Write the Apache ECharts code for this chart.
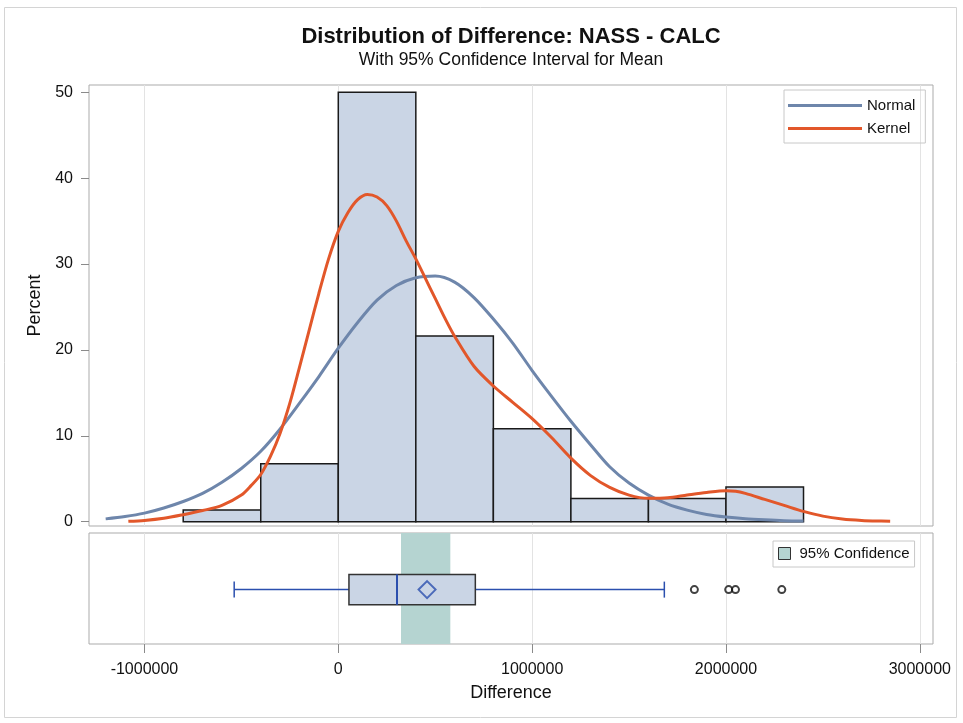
<!DOCTYPE html>
<html>
<head>
<meta charset="utf-8">
<script src="https://cdn.jsdelivr.net/npm/echarts@6/dist/echarts.min.js"></script>
<style>
  html, body { margin: 0; padding: 0; background: #ffffff; }
  #chart { width: 963px; height: 723px; }
</style>
</head>
<body>
<div id="chart"></div>
<script>
// Histogram bins: lower/upper edges and percent of observations in each bin
const binLower = [-800000, -400000, 0, 400000, 800000, 1200000, 1600000, 2000000];
const binUpper = [-400000, 0, 400000, 800000, 1200000, 1600000, 2000000, 2400000];
const binPercent = [1.35, 6.76, 50.0, 21.62, 10.81, 2.70, 2.70, 4.05];

// Fitted normal density (scaled to percent)
const normalX = [-1200000, -1100000, -1000000, -900000, -800000, -700000, -600000, -500000, -400000, -300000,
                 -200000, -100000, 0, 100000, 200000, 300000, 400000, 500000, 600000, 700000,
                 800000, 900000, 1000000, 1100000, 1200000, 1300000, 1400000, 1500000, 1600000, 1700000,
                 1800000, 1900000, 2000000, 2100000, 2200000, 2300000, 2400000];
const normalY = [0.33, 0.6, 1.0, 1.6, 2.35, 3.3, 4.6, 6.2, 8.2, 10.8,
                 13.8, 16.9, 20.2, 23.2, 25.8, 27.5, 28.4, 28.6, 27.9, 26.1,
                 23.6, 20.8, 17.6, 14.6, 11.7, 9.0, 6.4, 4.5, 3.1, 2.05,
                 1.35, 0.85, 0.55, 0.35, 0.22, 0.12, 0.07];

// Kernel density estimate (scaled to percent)
const kernelX = [-1083000, -1000000, -900000, -800000, -700000, -600000, -500000, -450000, -400000, -350000,
                 -300000, -250000, -200000, -150000, -100000, -50000, 0, 50000, 100000, 150000,
                 200000, 250000, 300000, 350000, 400000, 450000, 500000, 550000, 600000, 700000,
                 800000, 900000, 1000000, 1100000, 1200000, 1300000, 1400000, 1500000, 1600000, 1700000,
                 1800000, 1900000, 2000000, 2050000, 2100000, 2200000, 2300000, 2400000, 2500000, 2600000,
                 2700000, 2800000, 2847000];
const kernelY = [0.05, 0.15, 0.4, 0.82, 1.3, 1.9, 3.1, 4.2, 5.5, 7.6,
                 10.3, 13.8, 18.0, 22.3, 26.6, 30.6, 33.8, 36.0, 37.5, 38.1,
                 37.8, 36.8, 35.0, 32.7, 30.6, 28.3, 26.0, 23.7, 21.6, 18.1,
                 15.8, 13.9, 12.0, 9.8, 7.4, 5.4, 4.0, 3.1, 2.72, 2.78,
                 3.1, 3.4, 3.6, 3.55, 3.3, 2.6, 1.9, 1.2, 0.65, 0.32,
                 0.15, 0.07, 0.05];

// Box plot summary: low whisker, Q1, median, Q3, high whisker
const boxStats = [-537000, 55000, 303000, 707000, 1682000];
const meanValue = 458000;
const outliers = [1837000, 2014000, 2049000, 2288000];
// 95% confidence interval for the mean
const ciBounds = [323500, 578000];

const xTicks = [-1000000, 0, 1000000, 2000000, 3000000];
const yTicks = [0, 10, 20, 30, 40, 50];

const FONT = "'Liberation Sans', Arial, sans-serif";
const BAR_FILL = '#CAD5E5';
const NORMAL_COLOR = '#6E86AB';
const KERNEL_COLOR = '#E2572A';
const CI_COLOR = '#B5D4D1';
const BOX_BLUE = '#2B4FAE';
const PANEL_BORDER = '#ABABAB';
const GRID_LINE = '#E3E3E3';

const X_MIN = -1286000, X_MAX = 3068000;
const BOX_Y = 0.49;

const chart = echarts.init(document.getElementById('chart'), null, { renderer: 'canvas' });

const histData = binLower.map((lo, i) => [lo, binUpper[i], binPercent[i]]);
const normalData = normalX.map((x, i) => [x, normalY[i]]);
const kernelData = kernelX.map((x, i) => [x, kernelY[i]]);

const option = {
  animation: false,
  backgroundColor: '#ffffff',
  graphic: [{
    type: 'rect',
    shape: { x: 4.5, y: 7.5, width: 952, height: 710 },
    style: { fill: 'none', stroke: '#D4D4D4', lineWidth: 1 },
    silent: true,
    z: -10
  }],
  title: {
    text: 'Distribution of Difference: NASS - CALC',
    subtext: 'With 95% Confidence Interval for Mean',
    left: 511,
    textAlign: 'center',
    top: 26,
    itemGap: 3,
    padding: 0,
    textStyle: { fontFamily: FONT, fontSize: 22, fontWeight: 'bold', color: '#111111' },
    subtextStyle: { fontFamily: FONT, fontSize: 17.5, color: '#111111' }
  },
  legend: [{
    data: [
      { name: 'Normal', icon: 'rect' },
      { name: 'Kernel', icon: 'rect' }
    ],
    orient: 'vertical',
    left: 784,
    top: 90,
    itemWidth: 74,
    itemHeight: 3,
    itemGap: 8,
    padding: [8, 10, 7, 4],
    borderColor: '#C8C8C8',
    borderWidth: 1,
    textStyle: { fontFamily: FONT, fontSize: 15, color: '#111111' },
    selectedMode: false
  }, {
    data: [{
      name: '95% Confidence',
      icon: 'rect',
      itemStyle: { color: CI_COLOR, borderColor: '#333333', borderWidth: 1 }
    }],
    orient: 'vertical',
    left: 773,
    top: 541,
    itemWidth: 12,
    itemHeight: 12,
    padding: [5, 5, 6, 5],
    borderColor: '#C8C8C8',
    borderWidth: 1,
    textStyle: { fontFamily: FONT, fontSize: 15, color: '#111111', padding: [0, 0, 0, 4] },
    selectedMode: false
  }],
  grid: [
    { left: 89, top: 85, width: 844, height: 441, show: true, borderColor: PANEL_BORDER, borderWidth: 1, backgroundColor: 'transparent' },
    { left: 89, top: 533, width: 844, height: 111, show: true, borderColor: PANEL_BORDER, borderWidth: 1, backgroundColor: 'transparent' }
  ],
  xAxis: [{
    type: 'value', gridIndex: 0, min: X_MIN, max: X_MAX,
    axisLine: { show: false, onZero: false },
    axisTick: { show: false, customValues: xTicks },
    axisLabel: { show: false, customValues: xTicks },
    splitLine: { show: true, lineStyle: { color: GRID_LINE, width: 1 } }
  }, {
    type: 'value', gridIndex: 1, min: X_MIN, max: X_MAX,
    position: 'bottom',
    name: 'Difference',
    nameLocation: 'middle',
    nameGap: 40,
    nameTextStyle: { fontFamily: FONT, fontSize: 18, color: '#111111' },
    axisLine: { show: false, onZero: false },
    axisTick: { show: true, length: 9, customValues: xTicks, lineStyle: { color: '#8A8A8A' } },
    axisLabel: {
      show: true, customValues: xTicks, margin: 18,
      fontFamily: FONT, fontSize: 16, color: '#111111',
      formatter: v => String(v)
    },
    splitLine: { show: true, lineStyle: { color: GRID_LINE, width: 1 } }
  }],
  yAxis: [{
    type: 'value', gridIndex: 0, min: -0.5, max: 50.85,
    position: 'left',
    name: 'Percent',
    nameLocation: 'middle',
    nameGap: 41,
    nameTextStyle: { fontFamily: FONT, fontSize: 18, color: '#111111' },
    axisLine: { show: false, onZero: false },
    axisTick: { show: true, length: 8, customValues: yTicks, lineStyle: { color: '#8A8A8A' } },
    axisLabel: {
      show: true, customValues: yTicks, margin: 16,
      fontFamily: FONT, fontSize: 16, color: '#111111'
    },
    splitLine: { show: false }
  }, {
    type: 'value', gridIndex: 1, min: 0, max: 1,
    axisLine: { show: false, onZero: false },
    axisTick: { show: false },
    axisLabel: { show: false },
    splitLine: { show: false }
  }],
  series: [
    {
      name: 'Histogram',
      type: 'custom',
      xAxisIndex: 0, yAxisIndex: 0,
      data: histData,
      encode: { x: [0, 1], y: 2 },
      z: 2,
      renderItem: (params, api) => {
        const p0 = api.coord([api.value(0), api.value(2)]);
        const p1 = api.coord([api.value(1), 0]);
        return {
          type: 'rect',
          shape: { x: p0[0], y: p0[1], width: p1[0] - p0[0], height: p1[1] - p0[1] },
          style: { fill: BAR_FILL, stroke: '#1A1A1A', lineWidth: 1.5 }
        };
      }
    },
    {
      name: 'Normal',
      type: 'line',
      xAxisIndex: 0, yAxisIndex: 0,
      data: normalData,
      smooth: 0.3,
      showSymbol: false,
      color: NORMAL_COLOR,
      lineStyle: { color: NORMAL_COLOR, width: 3 },
      z: 4
    },
    {
      name: 'Kernel',
      type: 'line',
      xAxisIndex: 0, yAxisIndex: 0,
      data: kernelData,
      smooth: 0.3,
      showSymbol: false,
      color: KERNEL_COLOR,
      lineStyle: { color: KERNEL_COLOR, width: 3 },
      z: 5
    },
    {
      name: '95% Confidence',
      type: 'custom',
      xAxisIndex: 1, yAxisIndex: 1,
      data: [ciBounds],
      encode: { x: [0, 1] },
      color: CI_COLOR,
      z: 1,
      renderItem: (params, api) => {
        const p0 = api.coord([api.value(0), 1]);
        const p1 = api.coord([api.value(1), 0]);
        return {
          type: 'rect',
          shape: { x: p0[0], y: p0[1], width: p1[0] - p0[0], height: p1[1] - p0[1] },
          style: { fill: CI_COLOR }
        };
      }
    },
    {
      name: 'Box',
      type: 'custom',
      xAxisIndex: 1, yAxisIndex: 1,
      data: [boxStats],
      encode: { x: [0, 1, 2, 3, 4] },
      z: 3,
      renderItem: (params, api) => {
        const yc = api.coord([0, BOX_Y])[1];
        const xs = [0, 1, 2, 3, 4].map(i => api.coord([api.value(i), BOX_Y])[0]);
        const half = 15.2, cap = 8;
        const blue = { stroke: BOX_BLUE, lineWidth: 1.5 };
        return {
          type: 'group',
          children: [
            { type: 'line', shape: { x1: xs[0], y1: yc, x2: xs[1], y2: yc }, style: blue },
            { type: 'line', shape: { x1: xs[3], y1: yc, x2: xs[4], y2: yc }, style: blue },
            { type: 'line', shape: { x1: xs[0], y1: yc - cap, x2: xs[0], y2: yc + cap }, style: blue },
            { type: 'line', shape: { x1: xs[4], y1: yc - cap, x2: xs[4], y2: yc + cap }, style: blue },
            {
              type: 'rect',
              shape: { x: xs[1], y: yc - half, width: xs[3] - xs[1], height: 2 * half },
              style: { fill: BAR_FILL, stroke: '#333333', lineWidth: 1.5 }
            },
            { type: 'line', shape: { x1: xs[2], y1: yc - half, x2: xs[2], y2: yc + half }, style: { stroke: BOX_BLUE, lineWidth: 2 } }
          ]
        };
      }
    },
    {
      name: 'Mean',
      type: 'scatter',
      xAxisIndex: 1, yAxisIndex: 1,
      data: [[meanValue, BOX_Y]],
      symbol: 'diamond',
      symbolSize: [17, 17],
      itemStyle: { color: 'rgba(0,0,0,0)', borderColor: BOX_BLUE, borderWidth: 2 },
      z: 6
    },
    {
      name: 'Outliers',
      type: 'scatter',
      xAxisIndex: 1, yAxisIndex: 1,
      data: outliers.map(v => [v, BOX_Y]),
      symbol: 'circle',
      symbolSize: 7,
      itemStyle: { color: 'rgba(0,0,0,0)', borderColor: '#111111', borderWidth: 2 },
      z: 6
    }
  ]
};

chart.setOption(option);
</script>
</body>
</html>
